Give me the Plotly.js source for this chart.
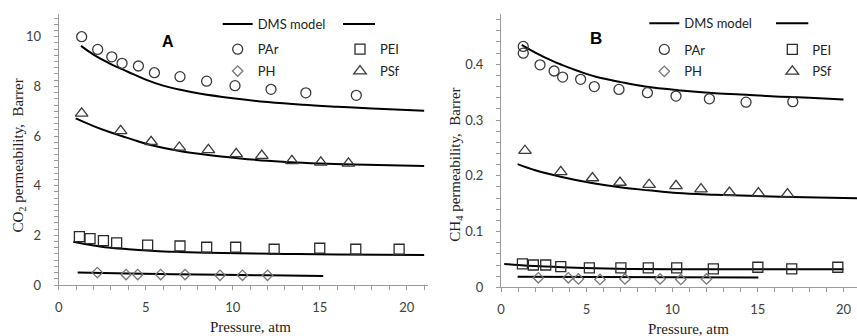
<!DOCTYPE html>
<html>
<head>
<meta charset="utf-8">
<script src="https://cdn.plot.ly/plotly-3.0.1.min.js"></script>
<style>html,body{margin:0;padding:0;background:#fff}#chart{width:857px;height:336px}</style>
</head>
<body>
<div id="chart"></div>
<script>
// ---------- Panel A : CO2 ----------
const A_PAr_x = [1.32, 2.24, 3.05, 3.64, 4.58, 5.5, 6.97, 8.5, 10.13, 12.2, 14.2, 17.1];
const A_PAr_y = [10.0, 9.49, 9.19, 8.93, 8.82, 8.55, 8.39, 8.21, 8.03, 7.88, 7.74, 7.64];
const A_PSf_x = [1.32, 3.56, 5.31, 6.93, 8.6, 10.2, 11.67, 13.4, 15.06, 16.65];
const A_PSf_y = [6.91, 6.21, 5.77, 5.54, 5.44, 5.28, 5.21, 5.0, 4.94, 4.9];
const A_PEI_x = [1.19, 1.8, 2.57, 3.33, 5.11, 6.97, 8.5, 10.17, 12.38, 15.0, 17.07, 19.56];
const A_PEI_y = [1.95, 1.87, 1.79, 1.70, 1.61, 1.57, 1.52, 1.52, 1.44, 1.48, 1.44, 1.44];
const A_PH_x = [2.22, 3.87, 4.54, 5.86, 7.26, 9.27, 10.56, 12.0];
const A_PH_y = [0.50, 0.42, 0.42, 0.42, 0.42, 0.39, 0.39, 0.39];

const A_mPAr_x = [1.28, 2, 3, 4, 5, 6, 7, 8, 10, 12, 14, 16, 18, 21];
const A_mPAr_y = [9.63, 9.28, 8.90, 8.58, 8.27, 8.03, 7.86, 7.72, 7.52, 7.37, 7.26, 7.18, 7.11, 7.02];
const A_mPSf_x = [0.98, 2, 3, 3.62, 4.5, 5.34, 6.87, 8.6, 10.3, 12, 13.3, 15, 17, 19, 21];
const A_mPSf_y = [6.71, 6.40, 6.14, 6.0, 5.80, 5.63, 5.41, 5.24, 5.11, 5.00, 4.94, 4.89, 4.85, 4.82, 4.79];
const A_mPEI_x = [0.84, 1.5, 2.66, 4, 5.53, 7, 8.5, 10.3, 13, 16, 21];
const A_mPEI_y = [1.74, 1.65, 1.52, 1.44, 1.37, 1.33, 1.30, 1.28, 1.25, 1.23, 1.21];
const A_mPH_x = [1.09, 4, 8, 12, 15.2];
const A_mPH_y = [0.50, 0.46, 0.42, 0.39, 0.36];

// ---------- Panel B : CH4 ----------
const B_PAr_x = [1.30, 1.30, 2.28, 3.10, 3.60, 4.65, 5.45, 6.89, 8.55, 10.22, 12.17, 14.31, 17.04];
const B_PAr_y = [0.432, 0.420, 0.399, 0.388, 0.377, 0.373, 0.360, 0.355, 0.349, 0.343, 0.338, 0.332, 0.333];
const B_PSf_x = [1.40, 3.49, 5.34, 6.95, 8.65, 10.22, 11.68, 13.34, 15.03, 16.73];
const B_PSf_y = [0.245, 0.207, 0.196, 0.188, 0.184, 0.182, 0.176, 0.170, 0.169, 0.167];
const B_PEI_x = [1.25, 1.89, 2.61, 3.49, 5.16, 7.0, 8.6, 10.26, 12.4, 15.0, 16.98, 19.67];
const B_PEI_y = [0.042, 0.040, 0.040, 0.037, 0.035, 0.035, 0.035, 0.035, 0.033, 0.036, 0.033, 0.036];
const B_PH_x = [2.18, 3.93, 4.52, 5.78, 7.24, 9.29, 10.5, 12.0];
const B_PH_y = [0.017, 0.017, 0.015, 0.014, 0.015, 0.015, 0.014, 0.015];

const B_mPAr_x = [1.21, 2, 3, 3.55, 4.5, 5.49, 7, 8.41, 10.5, 12.5, 14.5, 16.3, 18, 20];
const B_mPAr_y = [0.435, 0.421, 0.406, 0.399, 0.388, 0.378, 0.368, 0.360, 0.353, 0.348, 0.345, 0.342, 0.340, 0.337];
const B_mPSf_x = [0.97, 2, 3.55, 5.3, 7.05, 8.6, 10.3, 12.5, 14.5, 16.3, 18.5, 21];
const B_mPSf_y = [0.221, 0.210, 0.198, 0.187, 0.179, 0.174, 0.169, 0.166, 0.164, 0.1625, 0.161, 0.1595];
const B_mPEI_x = [0.19, 1, 2, 3.55, 5.5, 7.44, 10, 15, 20];
const B_mPEI_y = [0.042, 0.040, 0.038, 0.036, 0.034, 0.033, 0.0325, 0.0323, 0.0323];
const B_mPH_x = [0.97, 15.03];
const B_mPH_y = [0.019, 0.0175];

const seriesNames = ['PAr', 'PH', 'PEI', 'PSf'];
const modelName = 'DMS model';
const panelLabels = ['A', 'B'];
const xTitle = 'Pressure, atm';
const yTitles = ['CO<sub>2</sub> permeability,&nbsp; Barrer', 'CH<sub>4</sub> permeability,&nbsp; Barrer'];

const markerStyles = {
  PAr: {symbol: 'circle-open', size: 10, color: '#3a3a3a'},
  PH:  {symbol: 'diamond-open', size: 8, color: '#777'},
  PEI: {symbol: 'square-open', size: 10, color: '#2a2a2a'},
  PSf: {symbol: 'triangle-up-open', size: 11, color: '#3a3a3a'}
};

function modelTrace(x, y, xa, ya, show, leg) {
  return {x, y, xaxis: xa, yaxis: ya, type: 'scatter', mode: 'lines', name: modelName,
    line: {color: '#000', width: 2, shape: 'spline', smoothing: 1},
    showlegend: show, legend: leg, hoverinfo: 'skip'};
}
function markerTrace(x, y, name, xa, ya, leg, grp) {
  const s = markerStyles[name];
  return {x, y, xaxis: xa, yaxis: ya, type: 'scatter', mode: 'markers', name,
    marker: {symbol: s.symbol, size: s.size, color: s.color, line: {color: s.color, width: 1.3}},
    legend: leg, legendgroup: grp};
}

const data = [
  modelTrace(A_mPAr_x, A_mPAr_y, 'x', 'y', true, 'legend'),
  modelTrace(A_mPSf_x, A_mPSf_y, 'x', 'y', false, 'legend'),
  modelTrace(A_mPEI_x, A_mPEI_y, 'x', 'y', false, 'legend'),
  modelTrace(A_mPH_x, A_mPH_y, 'x', 'y', false, 'legend'),
  markerTrace(A_PAr_x, A_PAr_y, 'PAr', 'x', 'y', 'legend2', 'a1'),
  markerTrace(A_PH_x, A_PH_y, 'PH', 'x', 'y', 'legend2', 'a2'),
  markerTrace(A_PEI_x, A_PEI_y, 'PEI', 'x', 'y', 'legend3', 'a3'),
  markerTrace(A_PSf_x, A_PSf_y, 'PSf', 'x', 'y', 'legend3', 'a4'),
  modelTrace(B_mPAr_x, B_mPAr_y, 'x2', 'y2', true, 'legend4'),
  modelTrace(B_mPSf_x, B_mPSf_y, 'x2', 'y2', false, 'legend4'),
  modelTrace(B_mPEI_x, B_mPEI_y, 'x2', 'y2', false, 'legend4'),
  modelTrace(B_mPH_x, B_mPH_y, 'x2', 'y2', false, 'legend4'),
  markerTrace(B_PAr_x, B_PAr_y, 'PAr', 'x2', 'y2', 'legend5', 'b1'),
  markerTrace(B_PH_x, B_PH_y, 'PH', 'x2', 'y2', 'legend5', 'b2'),
  markerTrace(B_PEI_x, B_PEI_y, 'PEI', 'x2', 'y2', 'legend6', 'b3'),
  markerTrace(B_PSf_x, B_PSf_y, 'PSf', 'x2', 'y2', 'legend6', 'b4')
];

const W = 857, H = 336;
const px = v => v / W, py = v => 1 - v / H;
const tickFont = {family: 'Lato, "Open Sans", sans-serif', size: 13, color: '#404040'};
const axisCommon = {showgrid: false, zeroline: false, showline: true, linecolor: '#9a9a9a', linewidth: 1,
  ticks: 'outside', ticklen: 4, tickcolor: '#9a9a9a', tickfont: tickFont, fixedrange: true, automargin: false};

const legFont = {family: 'Lato, "Open Sans", sans-serif', size: 13, color: '#222'};
function leg(x, y, gap) {
  return {x: px(x), y: py(y), xanchor: 'left', yanchor: 'middle', bgcolor: 'rgba(0,0,0,0)', borderwidth: 0,
    font: legFont, tracegroupgap: gap || 0, itemwidth: 30, itemclick: false, itemdoubleclick: false};
}

const layout = {
  width: W, height: H,
  margin: {l: 0, r: 0, t: 0, b: 0},
  paper_bgcolor: '#fff', plot_bgcolor: '#fff',
  xaxis: Object.assign({}, axisCommon, {domain: [px(58.7), px(428)], range: [0, 21.22], dtick: 5, tick0: 0,
    minor: {dtick: 1, ticks: 'outside', ticklen: 4, tickcolor: '#9a9a9a'}, ticklabelstandoff: 6, anchor: 'y'}),
  yaxis: Object.assign({}, axisCommon, {domain: [py(285), py(14)], range: [0, 10.915], dtick: 2, tick0: 0,
    minor: {dtick: 0.25, ticks: 'outside', ticklen: 4, tickcolor: '#9a9a9a'}, ticklabelstandoff: 10, anchor: 'x'}),
  xaxis2: Object.assign({}, axisCommon, {domain: [px(501), 1], range: [0, 20.79], dtick: 5, tick0: 0,
    minor: {dtick: 1, ticks: 'outside', ticklen: 4, tickcolor: '#9a9a9a'}, ticklabelstandoff: 6, anchor: 'y2'}),
  yaxis2: Object.assign({}, axisCommon, {domain: [py(287.3), py(14)], range: [0, 0.4902], dtick: 0.1, tick0: 0,
    minor: {dtick: 0.02, ticks: 'outside', ticklen: 4, tickcolor: '#9a9a9a'}, ticklabelstandoff: 10, anchor: 'x2'}),
  legend: leg(217.7, 24),
  legend2: leg(217.7, 60.2, 2),
  legend3: leg(340, 60.2, 2),
  legend4: leg(644.3, 23.3),
  legend5: leg(644.3, 60.5, 2),
  legend6: leg(772.3, 60.5, 2),
  shapes: [
    {type: 'line', xref: 'paper', yref: 'paper', x0: px(343), x1: px(375), y0: py(24), y1: py(24), line: {color: '#000', width: 2}},
    {type: 'line', xref: 'paper', yref: 'paper', x0: px(776), x1: px(808.3), y0: py(23.3), y1: py(23.3), line: {color: '#000', width: 2}}
  ],
  annotations: [
    {text: '<b>' + panelLabels[0] + '</b>', xref: 'paper', yref: 'paper', x: px(167.5), y: py(41.3), showarrow: false,
      font: {family: 'Liberation Sans, Arial, sans-serif', size: 16, color: '#000'}, xanchor: 'center', yanchor: 'middle'},
    {text: '<b>' + panelLabels[1] + '</b>', xref: 'paper', yref: 'paper', x: px(595.8), y: py(38.5), showarrow: false,
      font: {family: 'Liberation Sans, Arial, sans-serif', size: 17, color: '#000'}, xanchor: 'center', yanchor: 'middle'},
    {text: xTitle, xref: 'paper', yref: 'paper', x: px(250), y: py(327), showarrow: false,
      font: {family: '"Liberation Serif", "Times New Roman", serif', size: 15, color: '#222'}, xanchor: 'center', yanchor: 'middle'},
    {text: xTitle, xref: 'paper', yref: 'paper', x: px(688), y: py(329), showarrow: false,
      font: {family: '"Liberation Serif", "Times New Roman", serif', size: 15, color: '#222'}, xanchor: 'center', yanchor: 'middle'},
    {text: yTitles[0], xref: 'paper', yref: 'paper', x: px(18.5), y: py(156), showarrow: false, textangle: -90,
      font: {family: '"Liberation Serif", "Times New Roman", serif', size: 15, color: '#222'}, xanchor: 'center', yanchor: 'middle'},
    {text: yTitles[1], xref: 'paper', yref: 'paper', x: px(455.7), y: py(165), showarrow: false, textangle: -90,
      font: {family: '"Liberation Serif", "Times New Roman", serif', size: 15, color: '#222'}, xanchor: 'center', yanchor: 'middle'}
  ]
};

Plotly.newPlot('chart', data, layout, {displayModeBar: false, staticPlot: true});
</script>
</body>
</html>
